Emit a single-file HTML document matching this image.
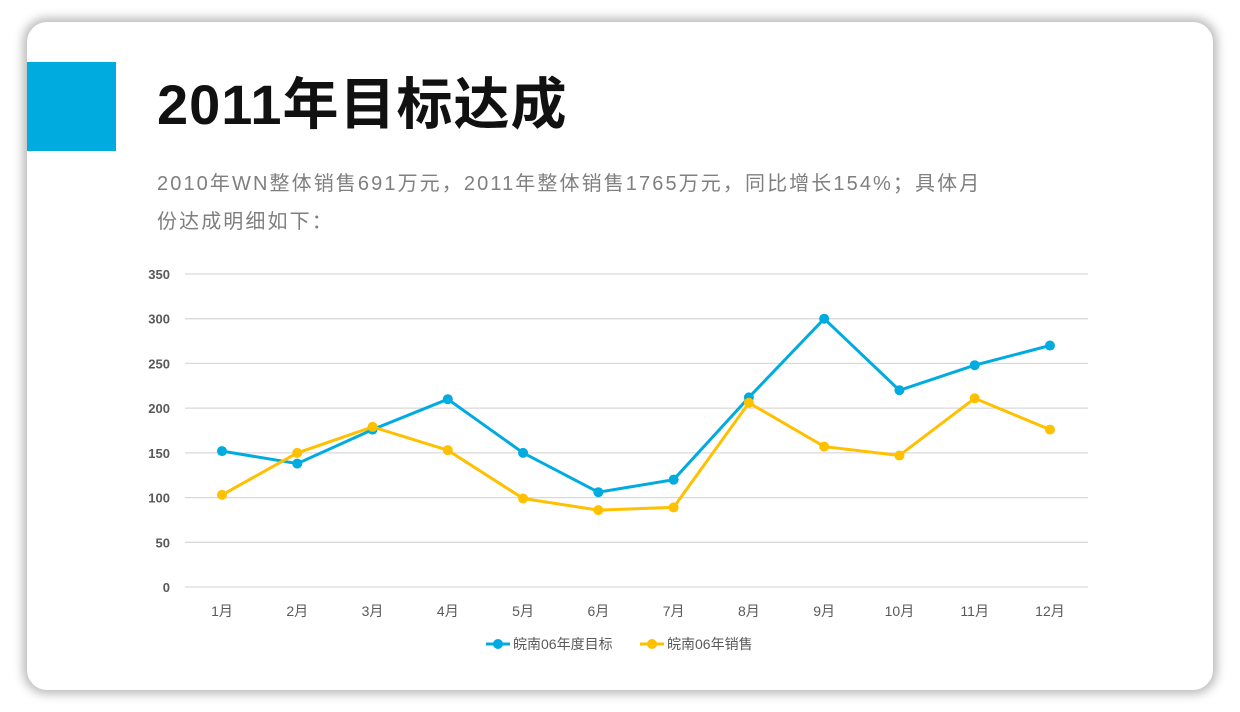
<!DOCTYPE html>
<html><head><meta charset="utf-8"><style>
body{margin:0;width:1240px;height:712px;background:#fff;overflow:hidden;font-family:"Liberation Sans","Noto Sans CJK SC",sans-serif;}
.card{position:absolute;left:27px;top:22px;width:1186px;height:668px;background:#fff;border-radius:20px;box-shadow:0 0 10px 4px rgba(0,0,0,0.28);}
.blue{position:absolute;left:27px;top:62px;width:89px;height:89px;background:#00abdf;}
.t{position:absolute;left:157px;top:72px;font-size:56px;font-weight:bold;color:#111;letter-spacing:1px;line-height:66px;}
.s{position:absolute;left:157px;top:165px;font-size:20px;color:#7f7f7f;line-height:38px;width:900px;letter-spacing:2.1px;white-space:nowrap;}
svg{position:absolute;left:0;top:0;}
</style></head><body>
<div class="card"></div>
<div class="blue"></div>
<div class="t">2011年目标达成</div>
<div class="s">2010年WN整体销售691万元，2011年整体销售1765万元，同比增长154%；具体月<br>份达成明细如下：</div>
<svg id="c" width="1240" height="712"></svg>
<script>
var s='';
function y(v){return 587-v*0.8943;}
function x(i){return 222+i*75.27;}
for(var v=0;v<=350;v+=50){var yy=y(v).toFixed(1);
s+='<line x1="185" x2="1088" y1="'+yy+'" y2="'+yy+'" stroke="#d9d9d9" stroke-width="1.3"/>';
s+='<text x="170" y="'+(+yy+5)+'" text-anchor="end" font-size="13" font-weight="bold" fill="#595959" font-family="Liberation Sans Narrow,Liberation Sans,sans-serif">'+v+'</text>';}
for(var i=0;i<12;i++)s+='<text x="'+x(i)+'" y="616" text-anchor="middle" font-size="14" fill="#595959" font-family="Liberation Sans,Noto Sans CJK SC,sans-serif">'+(i+1)+'月</text>';
var A=[152,138,176,210,150,106,120,212,300,220,248,270],B=[103,150,179,153,99,86,89,206,157,147,211,176];
function ser(d,c){var p=d.map(function(v,i){return x(i).toFixed(1)+','+y(v).toFixed(1)}).join(' ');
s+='<polyline points="'+p+'" fill="none" stroke="'+c+'" stroke-width="3"/>';
d.forEach(function(v,i){s+='<circle cx="'+x(i)+'" cy="'+y(v)+'" r="5" fill="'+c+'"/>';});}
ser(A,'#00abdf');ser(B,'#ffc000');
s+='<line x1="486" x2="510" y1="644" y2="644" stroke="#00abdf" stroke-width="3"/><circle cx="498" cy="644" r="5" fill="#00abdf"/><text x="513" y="649" font-size="14" fill="#595959" font-family="Liberation Sans,Noto Sans CJK SC,sans-serif">皖南06年度目标</text>';
s+='<line x1="640" x2="664" y1="644" y2="644" stroke="#ffc000" stroke-width="3"/><circle cx="652" cy="644" r="5" fill="#ffc000"/><text x="667" y="649" font-size="14" fill="#595959" font-family="Liberation Sans,Noto Sans CJK SC,sans-serif">皖南06年销售</text>';
document.getElementById('c').innerHTML=s;
</script>
</body></html>
